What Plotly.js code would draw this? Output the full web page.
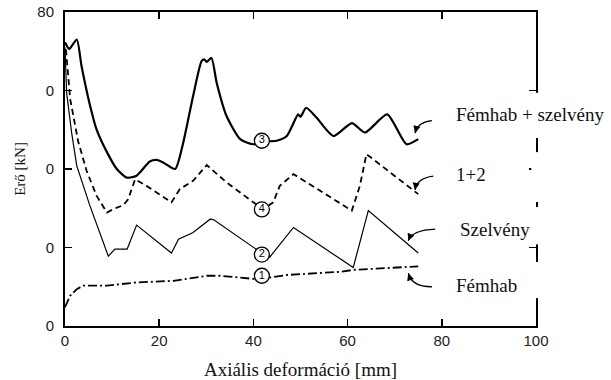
<!DOCTYPE html>
<html>
<head>
<meta charset="utf-8">
<script src="https://cdn.plot.ly/plotly-3.0.1.min.js"></script>
<style>html,body{margin:0;padding:0;background:#fff;}#chart{width:611px;height:380px;}</style>
</head>
<body>
<div id="chart"></div>
<script>
// Curve 3: Fémhab + szelvény (thick solid)
const x3 = [0, 0.9, 2.5, 3.5, 5.0, 6.7, 8.9, 11.0, 13.1, 15.2, 18.0, 19.5, 20.9, 23.4, 25.1, 27.2, 29.0, 29.6, 30.1, 31.1, 32.2, 34.3, 37.2, 40.0, 42.1, 44.9, 47.1, 49.5, 50.0, 51.2, 53.4, 57.0, 60.9, 63.7, 68.4, 72.5, 75.0];
const y3 = [72.3, 70.6, 73.0, 66.3, 57.8, 50.1, 44.3, 40.0, 37.8, 38.3, 41.9, 42.3, 41.6, 40.0, 46.7, 58.6, 67.5, 67.9, 67.3, 68.3, 62.0, 53.5, 47.6, 46.3, 47.0, 47.2, 48.4, 53.9, 53.3, 55.6, 53.1, 48.4, 51.7, 49.3, 53.9, 46.3, 47.6];
// Curve 4: 1+2 (dashed)
const x4 = [0.2, 1.1, 2.8, 4.6, 6.7, 8.9, 10.3, 12.4, 13.4, 14.9, 17.3, 22.6, 24.4, 27.2, 30.1, 34.3, 40.0, 42.1, 44.2, 45.6, 48.5, 60.9, 62.6, 64.0, 75.0];
const y4 = [70.5, 57.8, 47.0, 39.5, 33.2, 28.9, 29.8, 30.8, 32.3, 37.4, 35.7, 31.5, 34.9, 37.0, 41.0, 36.6, 31.5, 29.8, 31.5, 35.7, 38.7, 29.4, 35.7, 43.8, 33.6];
// Curve 2: Szelvény (thin solid)
const x2 = [0, 0.35, 1.4, 2.5, 5.3, 9.2, 10.6, 13.2, 15.2, 22.6, 24.1, 27.2, 30.8, 31.5, 42.1, 43.5, 48.5, 61.2, 64.4, 75.0];
const y2 = [71.0, 59.4, 49.3, 40.8, 30.6, 17.8, 19.6, 19.6, 25.7, 18.6, 22.1, 23.8, 27.2, 27.1, 18.3, 17.6, 25.1, 14.9, 29.4, 18.6];
// Curve 1: Fémhab (dash-dot)
const x1 = [0, 0.5, 1.1, 2.5, 3.9, 8.9, 15.2, 23.0, 30.1, 32.9, 40.0, 42.1, 47.1, 58.4, 61.2, 75.0];
const y1 = [4.8, 6.0, 7.7, 9.4, 10.3, 10.3, 11.1, 11.5, 12.8, 12.8, 12.0, 12.1, 13.0, 13.8, 14.3, 15.2];
// Numbered circle labels on the curves
const circleText = ['3', '4', '2', '1'];
const circleX = [41.8, 41.8, 41.8, 41.8];
const circleY = [47.2, 29.7, 18.2, 12.8];
// Curve names (right side)
const curveNames = ['Fémhab + szelvény', '1+2', 'Szelvény', 'Fémhab'];
// Axis ticks
const xTickVals = [0, 20, 40, 60, 80, 100];
const xTickText = ['0', '20', '40', '60', '80', '100'];
const yTickVals = [0, 20, 40, 60, 80];
const yTickText = ['0', '0', '0', '0', '80'];

const labelPos = [[82.6, 54.0], [82.6, 38.5], [83.4, 24.7], [82.6, 10.4]];
// curved pointer arrows: tail, control, head (data units) + head direction (px)
const arrows = [
  {t: [77.9, 52.3], c: [74.95, 51.97], h: [74.31, 49.17], d: [3, -11]},
  {t: [78.2, 38.2], c: [74.73, 37.71], h: [74.31, 34.65], d: [2, -12]},
  {t: [78.6, 24.7], c: [73.67, 24.46], h: [72.89, 21.73], d: [4, -10]},
  {t: [77.9, 10.0], c: [73.67, 9.94], h: [72.89, 13.43], d: [4, 12]}
];

const traces = [
  {x: x1, y: y1, mode: 'lines', line: {color: '#000', width: 1.8, dash: '9px,3px,2px,3px'}, hoverinfo: 'skip'},
  {x: x2, y: y2, mode: 'lines', line: {color: '#000', width: 1.2}, hoverinfo: 'skip'},
  {x: x4, y: y4, mode: 'lines', line: {color: '#000', width: 1.8, dash: '6px,4px'}, hoverinfo: 'skip'},
  {x: x3, y: y3, mode: 'lines', line: {color: '#000', width: 2.2, shape: 'spline', smoothing: 0.6}, hoverinfo: 'skip'},
  {x: circleX, y: circleY, text: circleText, mode: 'markers+text', textposition: 'middle center',
   marker: {size: 15, color: '#fff', line: {color: '#000', width: 1.3}},
   textfont: {family: '"Liberation Sans", Arial, sans-serif', size: 11, color: '#000'}, hoverinfo: 'skip'}
];

const serif = '"Liberation Serif", "Times New Roman", Times, serif';
const annotations = [];
curveNames.forEach((t, i) => {
  annotations.push({x: labelPos[i][0], y: labelPos[i][1], xref: 'x', yref: 'y', text: t, showarrow: false,
    xanchor: 'left', yanchor: 'middle',
    font: {family: serif, size: 19, color: '#111'}});
});
arrows.forEach(a => {
  const n = Math.hypot(a.d[0], a.d[1]);
  annotations.push({x: a.h[0], y: a.h[1], ax: a.d[0] / n * 6, ay: a.d[1] / n * 6, xref: 'x', yref: 'y',
    text: '', showarrow: true, arrowhead: 2, arrowsize: 1.1, arrowwidth: 1.3, arrowcolor: '#000', standoff: 0});
});

// white masks interrupting the right frame line (as in the scan)
const masks = [[59.4, 47.9], [44.3, 31.6], [30.3, 20.8], [16.3, 7.1]];
const shapes = masks.map(m => ({type: 'rect', xref: 'paper', yref: 'y', x0: 0.99, x1: 1.03, y0: m[1], y1: m[0],
  fillcolor: '#fff', line: {width: 0}, layer: 'above'}));
arrows.forEach(a => {
  shapes.push({type: 'path', xref: 'x', yref: 'y', layer: 'above',
    path: `M ${a.t[0]} ${a.t[1]} Q ${a.c[0]} ${a.c[1]} ${a.h[0]} ${a.h[1]}`,
    line: {color: '#000', width: 1.3}});
});

const layout = {
  width: 611, height: 380,
  margin: {l: 65, r: 75, t: 12, b: 54},
  paper_bgcolor: '#fff', plot_bgcolor: '#fff',
  showlegend: false,
  xaxis: {
    range: [0, 100], tickvals: xTickVals, ticktext: xTickText,
    ticks: 'inside', ticklen: 7, tickwidth: 1.5, tickcolor: '#000',
    showline: true, linewidth: 2, linecolor: '#000', mirror: 'ticks',
    showgrid: false, zeroline: false,
    tickfont: {family: '"Liberation Sans", Arial, sans-serif', size: 15, color: '#222'},
    title: {text: 'Axiális deformáció [mm]', standoff: 17,
      font: {family: serif, size: 19, color: '#111'}}
  },
  yaxis: {
    range: [0, 80], tickvals: yTickVals, ticktext: yTickText,
    ticks: 'inside', ticklen: 7, tickwidth: 1.5, tickcolor: '#000',
    showline: true, linewidth: 2, linecolor: '#000', mirror: 'ticks',
    showgrid: false, zeroline: false, ticklabelstandoff: 6,
    tickfont: {family: '"Liberation Sans", Arial, sans-serif', size: 15, color: '#222'},
    title: {text: 'Erő [kN]', standoff: 8,
      font: {family: serif, size: 15, color: '#111'}}
  },
  shapes: shapes,
  annotations: annotations
};

Plotly.newPlot('chart', traces, layout, {staticPlot: true, displayModeBar: false});
</script>
</body>
</html>
